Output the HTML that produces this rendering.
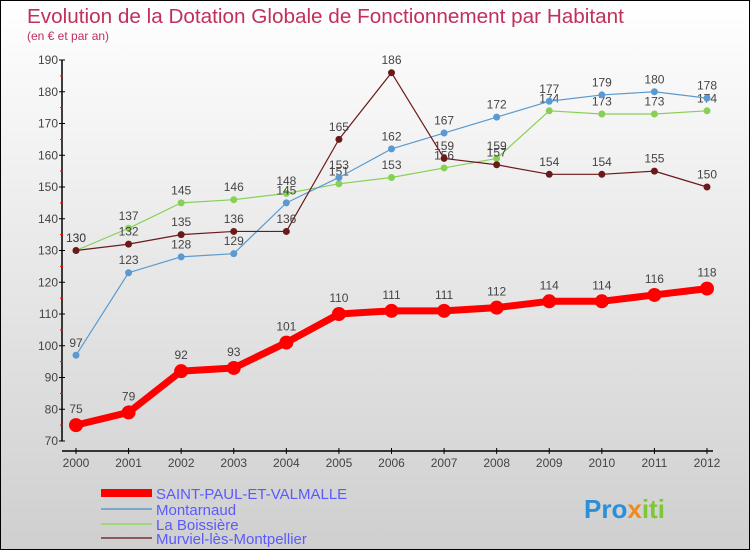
<!DOCTYPE html>
<html><head><meta charset="utf-8"><style>
body{margin:0;width:750px;height:550px;overflow:hidden;font-family:"Liberation Sans",sans-serif}
#c{position:absolute;left:0;top:0;width:748px;height:548px;border:1px solid #000;background:linear-gradient(#fff,#cfcfcf)}
</style></head><body>
<div id="c">
<svg id="s" width="748" height="548" xmlns="http://www.w3.org/2000/svg" font-family="Liberation Sans, sans-serif">
<text x="26" y="22" font-size="20.7" fill="#c0305a">Evolution de la Dotation Globale de Fonctionnement par Habitant</text>
<text x="26" y="39" font-size="12" fill="#c0305a">(en € et par an)</text>
<g id="axes"></g><g id="series"></g>
<g>
<line x1="100" y1="492" x2="151" y2="492" stroke="#f00" stroke-width="8"/>
<text x="155" y="498" font-size="15" fill="#5a5aff">SAINT-PAUL-ET-VALMALLE</text>
<line x1="100" y1="508" x2="151" y2="508" stroke="#7aa8cc" stroke-width="2"/>
<text x="155" y="514" font-size="15" fill="#5a5aff">Montarnaud</text>
<line x1="100" y1="523" x2="151" y2="523" stroke="#9ed67a" stroke-width="2"/>
<text x="155" y="529" font-size="15" fill="#5a5aff">La Boissière</text>
<line x1="100" y1="537" x2="151" y2="537" stroke="#8b5a5a" stroke-width="2"/>
<text x="155" y="543" font-size="15" fill="#5a5aff">Murviel-lès-Montpellier</text>
</g>
<text x="583" y="517" font-size="26" font-weight="bold"><tspan fill="#2a8fd8">Pro</tspan><tspan fill="#f08a1a">x</tspan><tspan fill="#7cc832">iti</tspan></text>
</svg></div>
<script>
const years=[2000,2001,2002,2003,2004,2005,2006,2007,2008,2009,2010,2011,2012];
const yTicks=[70,80,90,100,110,120,130,140,150,160,170,180,190];
const spv=[75,79,92,93,101,110,111,111,112,114,114,116,118];
const montarnaud=[97,123,128,129,145,153,162,167,172,177,179,180,178];
const boissiere=[130,137,145,146,148,151,153,156,159,174,173,173,174];
const murviel=[130,132,135,136,136,165,186,159,157,154,154,155,150];
const NS="http://www.w3.org/2000/svg";
const X=i=>75+i*(631/12);
const Y=v=>440-(v-70)*(381/120);
function mk(t,a,p){const e=document.createElementNS(NS,t);for(const k in a)e.setAttribute(k,a[k]);p.appendChild(e);return e;}
const ax=document.getElementById('axes');
let l=mk('line',{x1:61,y1:Y(190),x2:61,y2:440,stroke:'#000','stroke-width':1.5},ax);


l=mk('line',{x1:61,y1:450,x2:712,y2:450,stroke:'#000','stroke-width':1.5},ax);


yTicks.forEach((v,i)=>{
 mk('line',{x1:58,y1:Y(v),x2:64,y2:Y(v),stroke:'#000'},ax);
 if(i<yTicks.length-1) mk('line',{x1:59,y1:Y(v+5),x2:62,y2:Y(v+5),stroke:'#f00'},ax);
 const t=mk('text',{x:57,y:Y(v)+4,'font-size':12,fill:'#444','text-anchor':'end'},ax);t.textContent=v;
 
 
});
years.forEach((yr,i)=>{
 mk('line',{x1:X(i),y1:447,x2:X(i),y2:453,stroke:'#000'},ax);
 const t=mk('text',{x:X(i),y:466,'font-size':12,fill:'#444','text-anchor':'middle'},ax);t.textContent=yr;
 
 
});
const sg=document.getElementById('series');
function draw(data,color,w,r,name){
 const g=mk('g',{},sg);
 
 
 mk('polyline',{points:data.map((v,i)=>X(i)+','+Y(v)).join(' '),fill:'none',stroke:color,'stroke-width':w,'stroke-linejoin':'round'},g);
 data.forEach((v,i)=>{
  const c=mk('circle',{cx:X(i),cy:Y(v),r:r,fill:color},g);
  
  
  const t=mk('text',{x:X(i),y:Y(v)-(r+5),'font-size':12,fill:'#444','text-anchor':'middle'},g);t.textContent=v;
  
  
 });
}
draw(boissiere,'#88d055',1.2,3.5,'series-la-boissiere');
draw(montarnaud,'#5a9ad0',1.2,3.5,'series-montarnaud');
draw(murviel,'#6b1a1a',1.2,3.5,'series-murviel');
draw(spv,'#f00',7,7,'series-saint-paul');
</script>
</body></html>
